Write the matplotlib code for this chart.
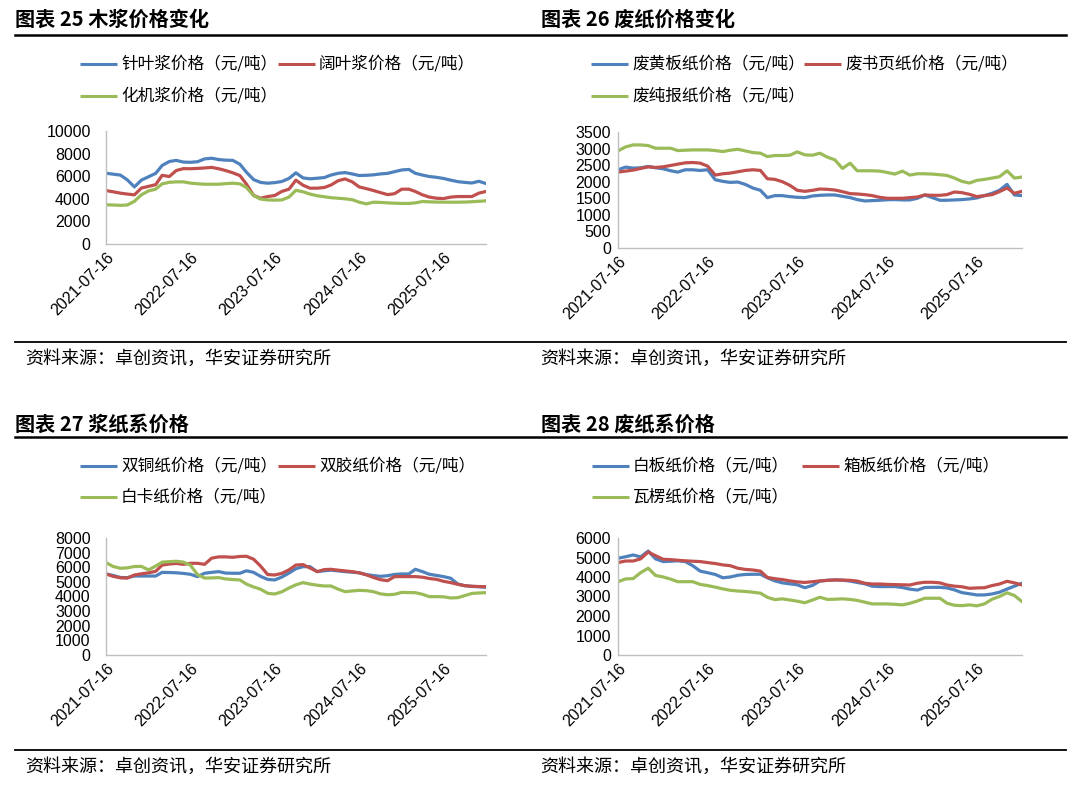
import matplotlib
matplotlib.use("Agg")
import matplotlib.pyplot as plt
import matplotlib.dates as mdates
from matplotlib.lines import Line2D
import pandas as pd

W, H = 1080, 792
CJK = ["Noto Sans CJK SC", "DejaVu Sans"]
NUM = ["Liberation Sans", "DejaVu Sans"]
BLUE, RED, GREEN = "#4F81BD", "#C0504D", "#9BBB59"

# monthly sample dates (16th of each month)
dates = pd.date_range("2021-07-16", periods=55, freq=pd.DateOffset(months=1))
tick_dates = ["2021-07-16", "2022-07-16", "2023-07-16", "2024-07-16", "2025-07-16"]

# ---------------- 图表25 木浆 ----------------
softwood = [6260, 6180, 6100, 5680, 5050, 5650, 5950, 6250, 6950, 7300, 7400, 7250, 7230, 7280,
            7530, 7590, 7470, 7420, 7400, 7050, 6350, 5700, 5450, 5380, 5430, 5530, 5800, 6300,
            5850, 5770, 5820, 5880, 6100, 6260, 6320, 6200, 6060, 6080, 6120, 6200, 6250, 6400,
            6550, 6600, 6260, 6100, 5970, 5900, 5800, 5650, 5520, 5450, 5400, 5550, 5350]
hardwood = [4730, 4620, 4500, 4420, 4350, 4950, 5100, 5250, 6080, 5970, 6500, 6670, 6660, 6690,
            6730, 6780, 6660, 6500, 6300, 6050, 5300, 4300, 4050, 4200, 4290, 4650, 4850, 5650,
            5200, 4940, 4940, 5000, 5220, 5600, 5760, 5500, 5050, 4900, 4730, 4550, 4370, 4450,
            4850, 4850, 4650, 4350, 4150, 4050, 4020, 4150, 4200, 4200, 4200, 4500, 4650]
mech_pulp = [3470, 3450, 3420, 3450, 3780, 4350, 4700, 4850, 5320, 5460, 5500, 5500, 5390, 5330,
             5290, 5290, 5290, 5340, 5380, 5320, 5000, 4280, 3980, 3900, 3880, 3900, 4150, 4750,
             4620, 4420, 4270, 4180, 4100, 4050, 4000, 3920, 3700, 3550, 3700, 3680, 3640, 3610,
             3590, 3590, 3640, 3760, 3730, 3710, 3700, 3700, 3700, 3710, 3740, 3780, 3820]

# ---------------- 图表26 废纸 ----------------
waste_yellow = [2360, 2440, 2410, 2420, 2460, 2420, 2390, 2330, 2290, 2360, 2360, 2340, 2360, 2060,
                2010, 1980, 1990, 1920, 1810, 1740, 1520, 1580, 1580, 1550, 1530, 1520, 1570, 1590,
                1600, 1600, 1560, 1520, 1460, 1420, 1430, 1440, 1455, 1460, 1450, 1450, 1500, 1600,
                1520, 1440, 1440, 1450, 1460, 1480, 1510, 1580, 1650, 1740, 1920, 1600, 1580]
waste_book = [2290, 2320, 2350, 2400, 2450, 2430, 2450, 2490, 2530, 2570, 2580, 2560, 2470, 2200,
              2240, 2260, 2300, 2340, 2360, 2340, 2090, 2070, 2000, 1890, 1740, 1710, 1740, 1780,
              1770, 1750, 1700, 1640, 1630, 1610, 1580, 1530, 1500, 1500, 1500, 1520, 1540, 1600,
              1590, 1590, 1610, 1690, 1670, 1620, 1550, 1580, 1610, 1700, 1810, 1650, 1710]
waste_news = [2930, 3050, 3110, 3110, 3090, 3010, 3010, 3010, 2940, 2950, 2960, 2960, 2960, 2940,
              2910, 2950, 2980, 2930, 2880, 2860, 2760, 2790, 2790, 2800, 2900, 2810, 2800, 2860,
              2740, 2660, 2400, 2560, 2330, 2330, 2330, 2320, 2280, 2230, 2320, 2200, 2240, 2240,
              2230, 2210, 2190, 2110, 2010, 1960, 2040, 2070, 2110, 2150, 2330, 2110, 2140]

# ---------------- 图表27 浆纸系 ----------------
coated = [5540, 5440, 5300, 5290, 5400, 5400, 5400, 5400, 5650, 5640, 5620, 5580, 5520, 5360,
          5590, 5650, 5700, 5600, 5590, 5590, 5760, 5650, 5380, 5170, 5130, 5330, 5600, 5900,
          6040, 6040, 5700, 5760, 5800, 5750, 5700, 5660, 5620, 5500, 5430, 5380, 5420, 5510,
          5540, 5540, 5860, 5700, 5520, 5440, 5360, 5250, 4850, 4740, 4690, 4670, 4630]
offset = [5540, 5380, 5280, 5260, 5470, 5550, 5620, 5720, 6150, 6220, 6260, 6200, 6270, 6270,
          6200, 6620, 6710, 6710, 6680, 6740, 6750, 6550, 6080, 5500, 5470, 5580, 5820, 6150,
          6180, 5950, 5700, 5840, 5860, 5800, 5750, 5700, 5620, 5480, 5300, 5150, 5080, 5360,
          5360, 5360, 5360, 5320, 5230, 5170, 5040, 4950, 4830, 4740, 4700, 4680, 4670]
ivory = [6320, 6050, 5930, 5960, 6050, 6060, 5820, 6080, 6350, 6380, 6410, 6350, 6150, 5500,
         5260, 5270, 5290, 5200, 5160, 5130, 4850, 4650, 4500, 4220, 4170, 4320, 4580, 4800,
         4950, 4850, 4770, 4720, 4720, 4500, 4330, 4380, 4420, 4400, 4330, 4180, 4120, 4150,
         4280, 4270, 4260, 4150, 3990, 3990, 3980, 3900, 3920, 4060, 4210, 4240, 4260]

# ---------------- 图表28 废纸系 ----------------
whiteboard = [4960, 5040, 5130, 5030, 5330, 4930, 4790, 4810, 4830, 4790, 4580, 4300, 4220, 4130,
              3960, 4000, 4090, 4130, 4140, 4140, 3960, 3800, 3700, 3650, 3600, 3450, 3570, 3790,
              3830, 3850, 3840, 3790, 3720, 3650, 3530, 3510, 3510, 3510, 3460, 3380, 3330, 3460,
              3470, 3470, 3440, 3340, 3200, 3140, 3080, 3080, 3130, 3220, 3380, 3530, 3680]
containerboard = [4740, 4820, 4820, 4930, 5280, 5090, 4910, 4890, 4860, 4830, 4810, 4790, 4740, 4690,
                  4620, 4580, 4450, 4390, 4360, 4300, 3980, 3910, 3870, 3800, 3750, 3720, 3760, 3800,
                  3830, 3850, 3840, 3830, 3790, 3680, 3640, 3640, 3620, 3610, 3600, 3590, 3680, 3730,
                  3730, 3700, 3590, 3530, 3500, 3420, 3440, 3450, 3560, 3640, 3780, 3700, 3590]
corrugated = [3760, 3900, 3920, 4220, 4450, 4080, 4000, 3890, 3760, 3760, 3760, 3620, 3560, 3480,
              3390, 3320, 3280, 3260, 3220, 3170, 2960, 2840, 2880, 2820, 2760, 2680, 2820, 2960,
              2850, 2860, 2880, 2850, 2800, 2710, 2620, 2620, 2620, 2600, 2570, 2650, 2770, 2910,
              2910, 2910, 2660, 2550, 2530, 2570, 2520, 2620, 2860, 3000, 3190, 3050, 2740]

panels = [
    dict(title="图表 25 木浆价格变化", x0=15, src_x=25, title_y=19,
         names=["针叶浆价格（元/吨）", "阔叶浆价格（元/吨）", "化机浆价格（元/吨）"],
         series=[softwood, hardwood, mech_pulp], ymax=10000, ystep=2000,
         box=(106, 131, 486, 244), ypad=11, leg=[(80, 64), (278, 64), (80, 96)], src_y=359),
    dict(title="图表 26 废纸价格变化", x0=541, src_x=540, title_y=19,
         names=["废黄板纸价格（元/吨）", "废书页纸价格（元/吨）", "废纯报纸价格（元/吨）"],
         series=[waste_yellow, waste_book, waste_news], ymax=3500, ystep=500,
         box=(618, 132, 1022, 248), ypad=5, leg=[(591, 64), (804, 64), (591, 96)], src_y=359),
    dict(title="图表 27 浆纸系价格", x0=15, src_x=25, title_y=424,
         names=["双铜纸价格（元/吨）", "双胶纸价格（元/吨）", "白卡纸价格（元/吨）"],
         series=[coated, offset, ivory], ymax=8000, ystep=1000,
         box=(106, 538, 486, 655), ypad=11, leg=[(80, 466), (278, 466), (80, 497)], src_y=767),
    dict(title="图表 28 废纸系价格", x0=541, src_x=540, title_y=424,
         names=["白板纸价格（元/吨）", "箱板纸价格（元/吨）", "瓦楞纸价格（元/吨）"],
         series=[whiteboard, containerboard, corrugated], ymax=6000, ystep=1000,
         box=(618, 538, 1022, 655), ypad=5, leg=[(592, 466), (802, 466), (592, 497)], src_y=767),
]

fig = plt.figure(figsize=(W / 100, H / 100), dpi=100)
fig.patch.set_facecolor("white")


def fx(px):
    return px / W


def fy(py):
    return 1 - py / H


def hline(y, x1, x2, lw):
    fig.add_artist(Line2D([fx(x1), fx(x2)], [fy(y), fy(y)], color="black", lw=lw))


colors = [BLUE, RED, GREEN]
for p in panels:
    fig.text(fx(p["x0"]), fy(p["title_y"]), p["title"], fontsize=14.5, fontweight="heavy",
             family=CJK, va="center", ha="left")
    for (lx, ly), name, c in zip(p["leg"], p["names"], colors):
        fig.add_artist(Line2D([fx(lx), fx(lx + 37)], [fy(ly), fy(ly)], color=c, lw=2.2,
                              solid_capstyle="butt"))
        fig.text(fx(lx + 41), fy(ly), name, fontsize=12, family=CJK, va="center", ha="left")
    fig.text(fx(p["src_x"]), fy(p["src_y"]), "资料来源：卓创资讯，华安证券研究所",
             fontsize=13, family=CJK, va="center", ha="left")

    l, tp, r, b = p["box"]
    ax = fig.add_axes([fx(l), fy(b), (r - l) / W, (b - tp) / H])
    for s, c in zip(p["series"], colors):
        ax.plot(dates, s, color=c, lw=2.3, solid_joinstyle="round")
    ax.set_ylim(0, p["ymax"])
    ax.set_yticks(range(0, p["ymax"] + 1, p["ystep"]))
    ax.set_xlim(dates[0], dates[-1])
    ax.set_xticks(pd.to_datetime(tick_dates))
    ax.xaxis.set_major_formatter(mdates.DateFormatter("%Y-%m-%d"))
    for sp in ["top", "right"]:
        ax.spines[sp].set_visible(False)
    for sp in ["left", "bottom"]:
        ax.spines[sp].set_color("#BFBFBF")
        ax.spines[sp].set_linewidth(1.0)
    ax.tick_params(axis="y", length=0, pad=p["ypad"], labelsize=11.5)
    ax.tick_params(axis="x", length=0, pad=4, labelsize=11.5)
    for lab in ax.get_yticklabels() + ax.get_xticklabels():
        lab.set_family(NUM)
    for lab in ax.get_xticklabels():
        lab.set_rotation(45)
        lab.set_ha("right")
        lab.set_va("top")
        lab.set_rotation_mode("anchor")
    ax.set_facecolor("none")

# separator lines (span both columns)
hline(35, 15, 1066, 1.8)
hline(342, 15, 1066, 1.3)
hline(437, 15, 1066, 1.8)
hline(750, 15, 1066, 1.3)

fig.savefig("out.png", dpi=100, facecolor="white")
